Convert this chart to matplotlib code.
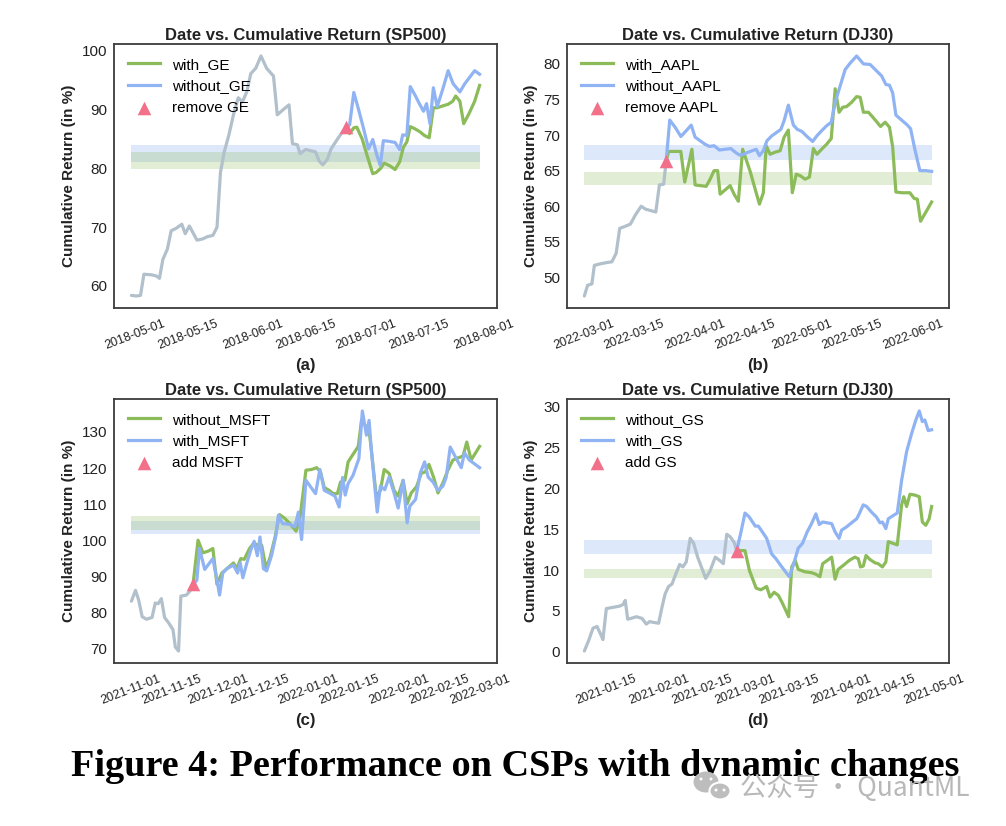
import matplotlib
matplotlib.use('Agg')
import matplotlib.pyplot as plt
import matplotlib.dates as mdates
from matplotlib.ticker import MultipleLocator
from matplotlib.patches import Ellipse
import numpy as np
import pandas as pd

plt.rcParams['font.family'] = ['Liberation Sans', 'DejaVu Sans']

# ---------------- data ----------------
# (a) SP500, GE removed
a_start = '2018-04-30'
a_gray_days = [0.0,1.3,2.4,3.3,5.3,6.6,7.4,8.3,9.5,10.5,11.8,13.3,14.2,15.3,17.3,18.8,20.1,21.5,22.6,23.5,24.5,25.7,27.0,28.2,29.3,30.5,31.5,32.8,34.2,35.7,37.5,38.5,40.1,41.6,42.5,43.8,44.5,46.0,47.3,48.6,49.5,50.5,51.7,52.7,54.1,55.6,56.7]
a_gray_vals = [58.4,58.3,58.4,62.0,61.9,61.7,61.3,64.5,66.3,69.4,69.8,70.5,68.9,70.2,67.8,68.0,68.4,68.6,70.0,79.3,82.8,85.6,89.3,92.0,91.3,93.1,96.1,97.0,99.1,97.0,95.7,89.1,90.0,90.8,84.2,84.0,82.5,83.2,83.0,82.8,81.3,80.6,81.5,83.3,84.7,86.1,87.0]
a_green_days = [56.7,57.6,58.7,59.5,60.9,62.2,63.7,64.6,65.8,66.7,68.3,69.6,70.8,71.8,72.7,73.6,74.9,76.2,77.3,78.6,79.7,80.7,82.1,83.6,84.8,85.6,86.7,87.7,89.1,90.6,91.9]
a_green_vals = [87.0,85.9,86.9,87.0,85.0,82.2,79.1,79.3,80.0,80.9,80.4,79.8,81.1,83.6,84.5,87.1,86.7,86.2,85.6,85.2,90.3,90.3,90.6,90.9,91.4,92.3,91.4,87.6,89.3,91.4,94.1]
a_blue_days = [56.7,57.6,58.7,60.0,61.3,62.6,63.7,64.8,65.7,66.5,67.9,69.6,70.8,71.6,72.7,73.6,74.9,76.0,77.1,77.9,78.8,79.7,80.7,82.1,83.6,84.9,86.7,88.0,90.6,91.9]
a_blue_vals = [87.0,87.4,92.9,89.9,86.7,83.3,84.9,82.2,80.5,84.7,84.6,84.4,83.2,85.7,85.6,93.9,92.4,91.0,89.7,91.0,87.6,93.7,90.5,93.3,96.6,94.4,93.0,94.4,96.6,96.0]
a_band_blue = (81.05, 84.0)
a_band_green = (79.9, 82.7)
a_labels = ['with_GE', 'without_GE', 'remove GE']
a_ystep = 10

# (b) DJ30, AAPL removed
b_start = '2022-03-01'
b_gray_days = [0.0,0.9,2.1,2.8,4.3,6.3,7.7,8.9,9.9,11.5,12.9,14.3,15.9,17.1,18.5,20.0,21.0,22.2,22.9]
b_gray_vals = [47.4,48.9,49.1,51.7,51.9,52.1,52.2,53.4,56.9,57.2,57.5,58.8,60.0,59.6,59.4,59.2,63.0,63.1,66.4]
b_green_days = [22.9,23.6,25.4,27.0,28.1,30.1,31.0,32.4,34.1,35.2,36.3,37.3,38.0,39.4,40.8,41.9,43.1,44.3,46.4,49.0,50.1,50.9,52.0,53.4,54.8,55.9,57.1,58.2,59.3,60.4,61.8,63.0,64.1,65.1,66.4,67.8,69.1,70.2,71.3,72.3,73.4,74.8,76.2,77.2,78.1,79.5,80.4,81.6,82.9,84.2,85.4,86.3,87.2,88.8,91.1,92.3,93.2,94.1,95.6,97.2]
b_green_vals = [66.4,67.7,67.7,67.7,63.4,68.0,63.0,62.9,62.8,63.8,65.0,65.0,61.7,62.3,62.9,61.7,60.7,68.0,64.9,60.3,61.9,68.5,67.3,67.6,67.8,69.7,70.7,61.9,64.5,64.3,63.8,64.1,68.1,67.3,68.0,68.7,69.5,76.5,73.2,73.9,74.0,74.6,75.4,75.3,73.2,73.2,72.7,72.0,71.2,71.8,71.1,68.3,62.0,61.9,61.9,61.1,61.0,57.9,59.2,60.6]
b_blue_days = [22.9,23.9,25.4,27.0,28.5,29.9,31.0,32.4,33.8,35.0,36.3,37.8,39.4,41.0,42.2,43.4,44.5,45.9,48.1,49.0,50.1,51.1,52.5,53.9,55.0,55.9,57.1,58.5,59.6,60.9,62.3,63.9,65.1,66.4,67.8,69.1,70.2,71.6,73.0,74.4,76.2,78.1,80.0,81.4,83.2,84.4,85.4,86.3,87.2,88.8,90.2,91.3,92.5,93.9,95.6,97.2]
b_blue_vals = [66.4,72.1,71.1,69.8,70.6,71.4,69.7,69.2,68.7,68.4,68.5,67.9,68.0,68.1,67.6,67.2,67.3,67.6,68.0,67.1,67.8,69.2,69.9,70.4,70.8,72.0,74.2,71.4,70.8,70.5,69.8,69.1,69.9,70.6,71.3,71.8,74.6,76.9,79.2,80.1,81.1,80.0,79.9,79.2,78.3,77.1,77.0,75.9,72.8,72.1,71.5,70.9,68.0,65.0,65.0,64.9]
b_band_blue = (66.5, 68.6)
b_band_green = (63.0, 64.8)
b_labels = ['with_AAPL', 'without_AAPL', 'remove AAPL']
b_ystep = 5

# (c) SP500, MSFT added
c_start = '2021-11-01'
c_gray_days = [0.1,1.5,2.6,3.8,5.3,7.2,8.3,9.3,10.4,11.5,12.9,14.4,15.2,16.3,17.1,19.0,20.3,21.3]
c_gray_vals = [83.1,86.1,83.4,78.8,78.1,78.6,82.6,82.4,83.8,78.6,77.1,75.2,70.4,69.3,84.5,84.8,86.0,87.8]
c_green_days = [21.3,23.0,24.7,26.6,28.1,29.5,31.2,32.9,35.2,36.3,37.7,38.9,40.7,42.1,43.8,44.9,46.4,47.8,49.5,51.0,52.6,54.6,56.7,58.1,60.1,62.1,63.8,65.1,66.4,68.1,69.5,70.9,72.0,73.5,74.6,76.3,78.1,79.2,80.7,81.8,82.6,84.3,85.7,87.0,88.7,90.4,91.8,93.5,94.9,96.3,98.1,99.8,101.1,102.4,104.0,105.5,107.2,108.9,110.6,112.7,114.1,115.4,116.9,119.8]
c_green_vals = [87.8,100.0,96.5,97.0,97.7,87.8,90.9,92.1,93.7,92.1,94.9,94.7,97.7,99.1,98.6,98.6,92.1,95.3,100.9,107.1,106.2,104.6,102.5,106.5,119.4,119.6,120.1,118.9,114.6,113.8,112.9,112.9,116.1,116.6,121.7,123.8,126.0,133.2,131.6,130.5,124.9,112.0,113.8,119.6,118.5,113.8,112.2,116.6,110.1,113.1,114.8,118.6,118.9,121.0,117.4,113.1,115.9,119.4,122.2,122.9,123.3,127.2,122.2,126.0]
c_blue_days = [21.3,22.6,23.5,25.3,26.6,28.1,29.5,30.4,31.5,32.9,35.2,36.6,37.5,38.4,39.8,41.1,42.3,43.4,44.3,45.5,46.6,48.3,49.8,50.6,52.1,54.6,56.3,57.5,58.6,60.1,61.7,63.4,64.9,66.4,68.1,70.1,71.5,72.7,73.6,74.6,76.3,78.3,79.5,80.9,81.8,82.6,84.6,85.7,87.2,88.7,90.4,91.8,93.5,94.9,95.8,97.8,99.4,100.9,102.1,103.8,105.5,107.2,108.3,109.7,111.8,113.5,114.6,116.3,119.8]
c_blue_vals = [87.8,88.9,97.7,91.9,93.3,94.9,89.1,84.8,90.9,92.1,93.1,90.9,93.7,89.6,93.7,97.2,99.7,95.7,100.9,92.1,91.5,95.8,101.4,106.9,104.6,104.4,103.7,107.8,100.2,116.6,114.8,112.9,119.6,113.8,113.1,112.2,109.2,117.4,112.5,115.7,118.0,122.6,135.8,129.1,133.2,124.9,107.8,115.0,114.0,117.5,113.1,108.9,116.6,104.8,109.4,111.3,118.6,121.7,117.5,116.1,113.8,115.0,117.4,125.8,122.6,120.1,124.2,122.2,120.1]
c_band_blue = (101.6, 105.3)
c_band_green = (102.8, 106.6)
c_labels = ['without_MSFT', 'with_MSFT', 'add MSFT']
c_ystep = 10

# (d) DJ30, GS added
d_start = '2021-01-08'
d_gray_days = [0.0,1.4,2.8,4.1,5.2,6.0,7.1,8.6,10.0,11.4,12.5,13.2,14.0,15.1,16.8,18.6,20.0,21.1,22.4,24.0,25.1,26.1,27.2,28.3,29.4,30.8,31.8,32.9,34.2,35.3,36.6,38.0,39.2,40.6,42.3,43.7,44.9,46.0,47.1,48.4,49.2]
d_gray_vals = [0.1,1.4,2.9,3.1,2.2,1.5,5.3,5.4,5.5,5.6,5.8,6.3,4.0,4.1,4.3,4.1,3.4,3.7,3.6,3.5,5.5,7.1,8.0,8.3,9.4,10.7,10.4,11.0,13.9,13.3,11.6,10.2,9.0,9.9,11.6,11.2,10.8,14.4,14.1,13.4,12.4]
d_green_days = [49.2,50.3,51.9,53.3,54.4,55.5,57.0,58.9,60.0,61.3,62.7,63.8,64.8,66.0,67.0,68.1,69.1,71.3,73.4,74.8,76.1,77.0,78.5,79.9,81.0,82.0,83.7,85.6,87.4,88.5,89.2,90.1,91.0,92.3,93.9,94.9,96.3,97.4,98.2,99.6,101.1,102.5,103.2,104.1,105.2,106.8,108.2,109.2,110.3,111.4,112.2]
d_green_vals = [12.4,12.4,12.4,10.0,8.9,7.8,7.6,8.0,6.7,7.3,6.9,6.1,5.3,4.3,10.4,11.2,10.1,9.8,9.7,9.5,9.2,10.8,11.2,11.6,8.9,10.1,10.6,11.2,11.6,11.4,10.4,10.5,11.8,11.3,10.9,10.8,10.4,11.0,13.5,13.3,13.1,18.0,19.0,17.8,19.3,19.2,19.0,15.9,15.5,16.3,17.8]
d_blue_days = [49.2,50.5,51.9,53.3,55.2,56.2,57.3,58.9,60.5,61.9,63.4,64.8,66.2,67.5,69.1,70.5,72.0,73.4,74.8,75.9,77.0,78.5,79.9,81.0,82.3,83.1,84.7,86.3,88.0,88.8,90.1,91.2,92.8,94.4,95.5,96.3,97.4,98.2,99.8,101.1,102.5,104.1,105.7,107.1,108.2,109.2,110.0,111.1,112.2]
d_blue_vals = [12.4,14.5,17.0,16.5,15.4,15.4,14.8,13.9,12.0,11.4,10.6,9.9,9.2,10.6,12.7,13.3,14.7,15.7,16.9,15.6,15.9,15.8,15.7,14.7,13.9,14.9,15.3,15.8,16.3,16.9,18.0,17.8,17.1,16.5,15.8,15.9,15.1,16.3,16.7,17.0,21.0,24.5,26.7,28.4,29.5,28.2,28.4,27.1,27.2]
d_band_blue = (12.0, 13.7)
d_band_green = (9.1, 10.2)
d_labels = ['without_GS', 'with_GS', 'add GS']
d_ystep = 5

titles = ['Date vs. Cumulative Return (SP500)', 'Date vs. Cumulative Return (DJ30)',
          'Date vs. Cumulative Return (SP500)', 'Date vs. Cumulative Return (DJ30)']
tags = ['(a)', '(b)', '(c)', '(d)']
caption = 'Figure 4: Performance on CSPs with dynamic changes'
watermark = '公众号 · QuantML'

# ---------------- style ----------------
GREEN = '#8cbb5a'
BLUE = '#8fb3f3'
GRAY = '#b1c0cb'
PINK = '#f2708a'
SPINE = '#3c3c3c'

W, H = 1006, 826
fig = plt.figure(figsize=(W / 100, H / 100), dpi=100)

def fx(px):
    return px / W

def fy(py):
    return 1 - py / H

boxes = [(114, 44, 497, 308), (567, 44, 949, 308), (114, 399, 497, 663), (567, 399, 949, 663)]

panels = [
    (a_start, a_gray_days, a_gray_vals, a_green_days, a_green_vals, a_blue_days, a_blue_vals, a_band_blue, a_band_green, a_labels, a_ystep),
    (b_start, b_gray_days, b_gray_vals, b_green_days, b_green_vals, b_blue_days, b_blue_vals, b_band_blue, b_band_green, b_labels, b_ystep),
    (c_start, c_gray_days, c_gray_vals, c_green_days, c_green_vals, c_blue_days, c_blue_vals, c_band_blue, c_band_green, c_labels, c_ystep),
    (d_start, d_gray_days, d_gray_vals, d_green_days, d_green_vals, d_blue_days, d_blue_vals, d_band_blue, d_band_green, d_labels, d_ystep),
]

for i, (start, gd, gv, grd, grv, bd, bv, bb, bg, labels, ystep) in enumerate(panels):
    l, t, r, b = boxes[i]
    ax = fig.add_axes([fx(l), fy(b), fx(r) - fx(l), fy(t) - fy(b)])
    t0 = pd.Timestamp(start)
    conv = lambda d: t0 + pd.to_timedelta(np.asarray(d, dtype=float), unit='D')
    gx = conv(gd)
    span = [gx[0], conv(grd)[-1]]
    ax.fill_between(span, bb[0], bb[1], color=BLUE, alpha=0.30, lw=0, zorder=1)
    ax.fill_between(span, bg[0], bg[1], color=GREEN, alpha=0.25, lw=0, zorder=1)
    ax.plot(gx, gv, color=GRAY, lw=2.3, zorder=2, solid_capstyle='round')
    ax.plot(conv(grd), grv, color=GREEN, lw=2.3, zorder=3, label=labels[0])
    ax.plot(conv(bd), bv, color=BLUE, lw=2.3, zorder=4, label=labels[1])
    ax.scatter([gx[-1]], [gv[-1]], marker='^', s=95, color=PINK, zorder=6, label=labels[2], linewidths=0)

    ax.xaxis.set_major_locator(mdates.DayLocator(bymonthday=[1, 15]))
    ax.xaxis.set_major_formatter(mdates.DateFormatter('%Y-%m-%d'))
    ax.yaxis.set_major_locator(MultipleLocator(ystep))
    ax.tick_params(axis='x', length=0, pad=7, labelsize=9, labelrotation=21, colors='#222222')
    ax.tick_params(axis='y', length=0, pad=5, labelsize=11, colors='#222222')
    for lab in ax.get_xticklabels():
        lab.set_ha('center')
    for s in ax.spines.values():
        s.set_color(SPINE)
        s.set_linewidth(1.3)
    ax.set_title(titles[i], fontsize=12, fontweight='bold', pad=3, color='#222222')
    ax.set_ylabel('Cumulative Return (in %)', fontsize=11, fontweight='bold', color='#222222')
    ax.legend(loc='upper left', frameon=False, fontsize=11, handlelength=2.1,
              scatterpoints=1, borderaxespad=0.5)
    fig.text(fx((l + r) / 2), fy(b + 58), tags[i], ha='center', va='center',
             fontsize=12, fontweight='bold', color='#222222')

fig.text(fx(515), fy(776), caption, ha='center', va='baseline', fontsize=27.5,
         fontweight='bold', family=['Liberation Serif', 'DejaVu Serif'], color='black')

# watermark
fig.add_artist(Ellipse((fx(706), fy(782)), fx(25), 21 / H, transform=fig.transFigure,
                       facecolor='#bdbdbd', edgecolor='none', zorder=10))
fig.add_artist(Ellipse((fx(720), fy(791)), fx(21), 17 / H, transform=fig.transFigure,
                       facecolor='#bdbdbd', edgecolor='white', lw=1.5, zorder=11))
for ex, ey in [(701, 779), (711, 779), (716, 790), (724, 790)]:
    fig.add_artist(Ellipse((fx(ex), fy(ey)), fx(3), 3 / H, transform=fig.transFigure,
                           facecolor='white', edgecolor='none', zorder=12))
fig.text(fx(740), fy(788), watermark, ha='left', va='center', fontsize=19,
         family=['Noto Sans CJK SC', 'DejaVu Sans'], color='#b8b8b8', zorder=12)

fig.savefig('out.png', dpi=100)
